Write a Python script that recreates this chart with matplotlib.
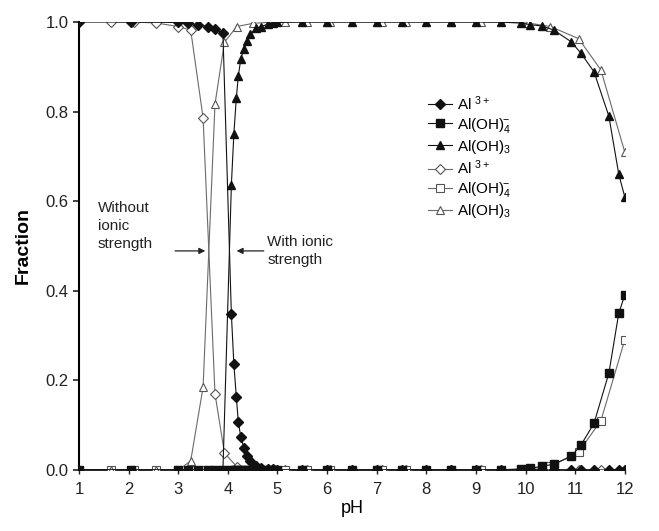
import matplotlib
matplotlib.use("Agg")
import matplotlib.pyplot as plt

plt.rcParams['font.family'] = ['Liberation Sans', 'DejaVu Sans']
plt.rcParams['mathtext.fontset'] = 'custom'
plt.rcParams['mathtext.rm'] = 'Liberation Sans'
plt.rcParams['mathtext.it'] = 'Liberation Sans:italic'
plt.rcParams['mathtext.bf'] = 'Liberation Sans:bold'

# ---- data: with ionic strength (filled markers) ----
ph_with = [1.0, 2.05, 3.0, 3.2, 3.4, 3.6, 3.75, 3.9, 4.07, 4.12, 4.17, 4.21, 4.26,
           4.32, 4.38, 4.45, 4.57, 4.67, 4.8, 4.9, 5.0, 5.5, 6.0, 6.5, 7.0, 7.5,
           8.0, 8.5, 9.0, 9.5, 9.9, 10.1, 10.34, 10.57, 10.92, 11.12, 11.38,
           11.68, 11.88, 12.0]
al3_with = [1.0, 1.0, 0.999, 0.997, 0.994, 0.99, 0.985, 0.975, 0.348, 0.237, 0.163,
            0.107, 0.074, 0.05, 0.03, 0.02, 0.009, 0.004, 0.002, 0.001, 0.0, 0.0,
            0.0, 0.0, 0.0, 0.0, 0.0, 0.0, 0.0, 0.0, 0.0, 0.0, 0.0, 0.0, 0.0, 0.0,
            0.0, 0.0, 0.0, 0.0]
aloh4_with = [0.0, 0.0, 0.0, 0.0, 0.0, 0.0, 0.0, 0.0, 0.0, 0.0, 0.0, 0.0, 0.0,
              0.0, 0.0, 0.0, 0.0, 0.0, 0.0, 0.0, 0.0, 0.0, 0.0, 0.0, 0.0, 0.0,
              0.0, 0.0, 0.0, 0.0, 0.002, 0.004, 0.008, 0.013, 0.03, 0.056, 0.104,
              0.216, 0.35, 0.39]
aloh3_with = [0.0, 0.0, 0.0, 0.0, 0.0, 0.0, 0.0, 0.0, 0.636, 0.75, 0.83, 0.88, 0.917,
              0.94, 0.958, 0.973, 0.986, 0.99, 0.995, 0.998, 0.999, 1.0, 1.0, 1.0,
              1.0, 1.0, 1.0, 1.0, 1.0, 1.0, 0.998, 0.994, 0.991, 0.982, 0.956,
              0.93, 0.889, 0.79, 0.66, 0.61]

# ---- data: without ionic strength (open markers) ----
ph_wo = [1.65, 2.1, 2.55, 3.0, 3.25, 3.5, 3.74, 3.93, 4.18, 4.5, 4.9, 5.15, 5.6,
         6.05, 7.1, 7.6, 8.5, 9.1, 10.05, 10.5, 11.07, 11.52, 12.0]
al3_wo = [1.0, 1.0, 0.998, 0.99, 0.982, 0.786, 0.17, 0.038, 0.007, 0.002, 0.0, 0.0,
          0.0, 0.0, 0.0, 0.0, 0.0, 0.0, 0.0, 0.0, 0.0, 0.0, 0.0]
aloh4_wo = [0.0, 0.0, 0.0, 0.0, 0.0, 0.0, 0.0, 0.0, 0.0, 0.0, 0.0, 0.0, 0.0, 0.0,
            0.0, 0.0, 0.0, 0.0, 0.002, 0.008, 0.04, 0.11, 0.29]
aloh3_wo = [0.0, 0.0, 0.0, 0.0, 0.02, 0.185, 0.817, 0.955, 0.99, 0.997, 1.0, 1.0,
            1.0, 1.0, 1.0, 1.0, 1.0, 1.0, 0.998, 0.99, 0.963, 0.893, 0.71]

labels = [r'Al $\mathregular{^{3+}}$', r'Al(OH)$\mathregular{_4^{\!\!-}}$',
          r'Al(OH)$\mathregular{_3}$', r'Al $\mathregular{^{3+}}$',
          r'Al(OH)$\mathregular{_4^{\!\!-}}$', r'Al(OH)$\mathregular{_3}$']
x_ticks = [1, 2, 3, 4, 5, 6, 7, 8, 9, 10, 11, 12]
y_ticks = [0.0, 0.2, 0.4, 0.6, 0.8, 1.0]

fig = plt.figure(figsize=(6.59, 5.31), dpi=100)
ax = fig.add_axes([0.12, 0.115, 0.828, 0.8435])

blk = '#111111'
gry = '#6a6a6a'
ms = 5.5
ax.plot(ph_with, al3_with, color=blk, lw=0.8, marker='D', ms=ms - 0.8,
        mfc=blk, mec=blk, label=labels[0], zorder=4)
ax.plot(ph_with, aloh4_with, color=blk, lw=0.8, marker='s', ms=ms,
        mfc=blk, mec=blk, label=labels[1], zorder=4)
ax.plot(ph_with, aloh3_with, color=blk, lw=0.8, marker='^', ms=ms + 0.8,
        mfc=blk, mec=blk, label=labels[2], zorder=4)
ax.plot(ph_wo, al3_wo, color=gry, lw=0.8, marker='D', ms=ms - 0.8,
        mfc='white', mec='#555555', mew=0.8, label=labels[3], zorder=3)
ax.plot(ph_wo, aloh4_wo, color=gry, lw=0.8, marker='s', ms=ms,
        mfc='white', mec='#555555', mew=0.8, label=labels[4], zorder=3)
ax.plot(ph_wo, aloh3_wo, color=gry, lw=0.8, marker='^', ms=ms + 0.8,
        mfc='white', mec='#555555', mew=0.8, label=labels[5], zorder=3)

ax.set_xlim(1, 12)
ax.set_ylim(0, 1.0)
ax.set_xticks(x_ticks)
ax.set_xticklabels([str(t) for t in x_ticks])
ax.set_yticks(y_ticks)
ax.set_yticklabels([f'{t:.1f}' for t in y_ticks])
ax.tick_params(axis='both', labelsize=12, colors='#222222', direction='out')
ax.tick_params(axis='y', length=4, width=1.2)
ax.tick_params(axis='x', length=3, width=1.0, pad=6)
for s in ['top', 'right']:
    ax.spines[s].set_visible(False)
ax.spines['left'].set_linewidth(1.5)
ax.spines['bottom'].set_linewidth(1.2)

ax.set_xlabel('pH', fontsize=13, labelpad=2)
ax.set_ylabel('Fraction', fontsize=14, fontweight='bold', labelpad=10)

leg = ax.legend(loc='upper left', bbox_to_anchor=(0.628, 0.853), frameon=False,
                fontsize=11, handlelength=1.6, handletextpad=0.3,
                labelspacing=0.2, borderaxespad=0)

ax.text(1.38, 0.545, 'Without\nionic\nstrength', fontsize=11, ha='left',
        va='center', linespacing=1.35, color='#222222')
ax.text(4.79, 0.489, 'With ionic\nstrength', fontsize=11, ha='left',
        va='center', linespacing=1.35, color='#222222')
ax.annotate('', xy=(3.6, 0.489), xytext=(2.88, 0.489),
            arrowprops=dict(arrowstyle='-|>', color='#222222', lw=0.9,
                            mutation_scale=9))
ax.annotate('', xy=(4.12, 0.489), xytext=(4.78, 0.489),
            arrowprops=dict(arrowstyle='-|>', color='#222222', lw=0.9,
                            mutation_scale=9))

fig.savefig('out.png', dpi=100)
